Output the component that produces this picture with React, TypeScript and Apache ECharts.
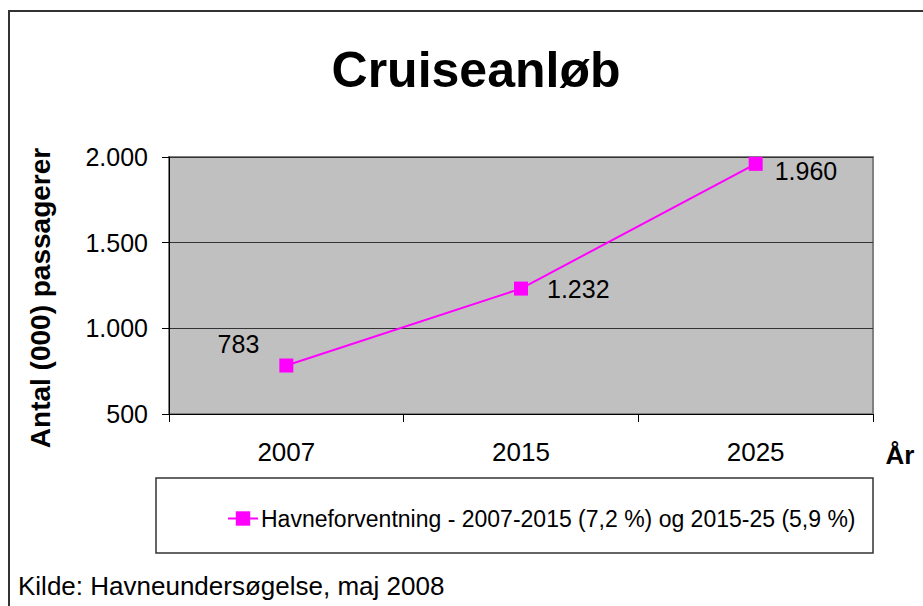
import React, { useEffect, useRef } from "react";
import * as echarts from "echarts";

const categories = ["2007", "2015", "2025"];
const passengers = [783, 1232, 1960];
const yTicks = { min: 500, max: 2000, interval: 500 };
const seriesName = "Havneforventning - 2007-2015 (7,2 %) og 2015-25 (5,9 %)";
const titleText = "Cruiseanløb";
const yAxisTitle = "Antal (000) passagerer";
const xAxisTitle = "År";
const sourceText = "Kilde: Havneundersøgelse, maj 2008";

const fmt = (v: number) => {
  const s = String(Math.round(v));
  return s.replace(/\B(?=(\d{3})+(?!\d))/g, ".");
};

const FONT = "'Liberation Sans', Arial, sans-serif";

export default function App() {
  const ref = useRef<HTMLDivElement>(null);
  useEffect(() => {
    if (!ref.current) return;
    const chart = echarts.init(ref.current, null, { renderer: "svg" });
    const labelCfg = [
      { position: "left", distance: 20, offset: [0, -22] },
      { position: "right", distance: 19, offset: [0, 0] },
      { position: "right", distance: 12, offset: [0, 7] },
    ];
    chart.setOption({
      animation: false,
      backgroundColor: "#ffffff",
      textStyle: { fontFamily: FONT },
      title: {
        text: titleText,
        left: 471,
        textAlign: "center",
        top: 40,
        textStyle: { fontSize: 50, fontWeight: "bold", color: "#000", fontFamily: FONT },
      },
      grid: {
        left: 169,
        top: 157,
        width: 704,
        height: 257,
        show: true,
        backgroundColor: "#C0C0C0",
        borderColor: "#808080",
        borderWidth: 2,
        containLabel: false,
      },
      legend: {
        left: 222,
        top: 502,
        itemWidth: 30,
        itemHeight: 18,
        itemGap: 0,
        itemStyle: { color: "#FF00FF" },
        lineStyle: { color: "#FF00FF", width: 2 },
        textStyle: { fontSize: 23, color: "#000", fontFamily: FONT, padding: [0, 0, 0, -2] },
        data: [{ name: seriesName }],
      },
      xAxis: {
        type: "category",
        data: categories,
        boundaryGap: true,
        axisLine: { lineStyle: { color: "#000", width: 1 } },
        axisTick: { show: true, alignWithLabel: false, interval: 0, length: 8, lineStyle: { color: "#000" } },
        axisLabel: { fontSize: 26, color: "#000", margin: 25, fontFamily: FONT },
        splitLine: { show: false },
      },
      yAxis: {
        type: "value",
        min: yTicks.min,
        max: yTicks.max,
        interval: yTicks.interval,
        axisLine: { show: true, lineStyle: { color: "#000", width: 1 } },
        axisTick: { show: true, length: 7, lineStyle: { color: "#000" } },
        axisLabel: { fontSize: 25, color: "#000", margin: 21, formatter: (v: number) => fmt(v), fontFamily: FONT },
        splitLine: { show: true, lineStyle: { color: "#333", width: 1 } },
      },
      series: [
        {
          name: seriesName,
          type: "line",
          data: passengers.map((v, i) => ({
            value: v,
            label: {
              show: true,
              position: labelCfg[i].position,
              distance: labelCfg[i].distance,
              offset: labelCfg[i].offset,
              formatter: () => fmt(v),
              fontSize: 25,
              color: "#000",
              fontFamily: FONT,
            },
          })),
          symbol: "rect",
          symbolSize: 14,
          lineStyle: { color: "#FF00FF", width: 2 },
          itemStyle: { color: "#FF00FF" },
        },
      ],
      graphic: [
        {
          type: "rect",
          shape: { x: 9, y: 11, width: 1000, height: 700 },
          style: { fill: "none", stroke: "#333", lineWidth: 2 },
          silent: true,
          z: -10,
        },
        {
          type: "rect",
          shape: { x: 156, y: 478, width: 717, height: 75 },
          style: { fill: "none", stroke: "#333", lineWidth: 1.5 },
          silent: true,
        },
        {
          type: "text",
          x: 40,
          y: 298,
          rotation: Math.PI / 2,
          style: {
            text: yAxisTitle,
            font: `bold 28px ${FONT}`,
            fill: "#000",
            align: "center",
            verticalAlign: "middle",
          },
        },
        {
          type: "text",
          x: 900,
          y: 455,
          style: {
            text: xAxisTitle,
            font: `bold 26px ${FONT}`,
            fill: "#000",
            align: "center",
            verticalAlign: "middle",
          },
        },
        {
          type: "text",
          x: 18,
          y: 586,
          style: {
            text: sourceText,
            font: `26px ${FONT}`,
            fill: "#000",
            align: "left",
            verticalAlign: "middle",
          },
        },
      ],
    });
    return () => chart.dispose();
  }, []);
  return <div ref={ref} style={{ width: 923, height: 606, position: "absolute", left: 0, top: 0 }} />;
}
